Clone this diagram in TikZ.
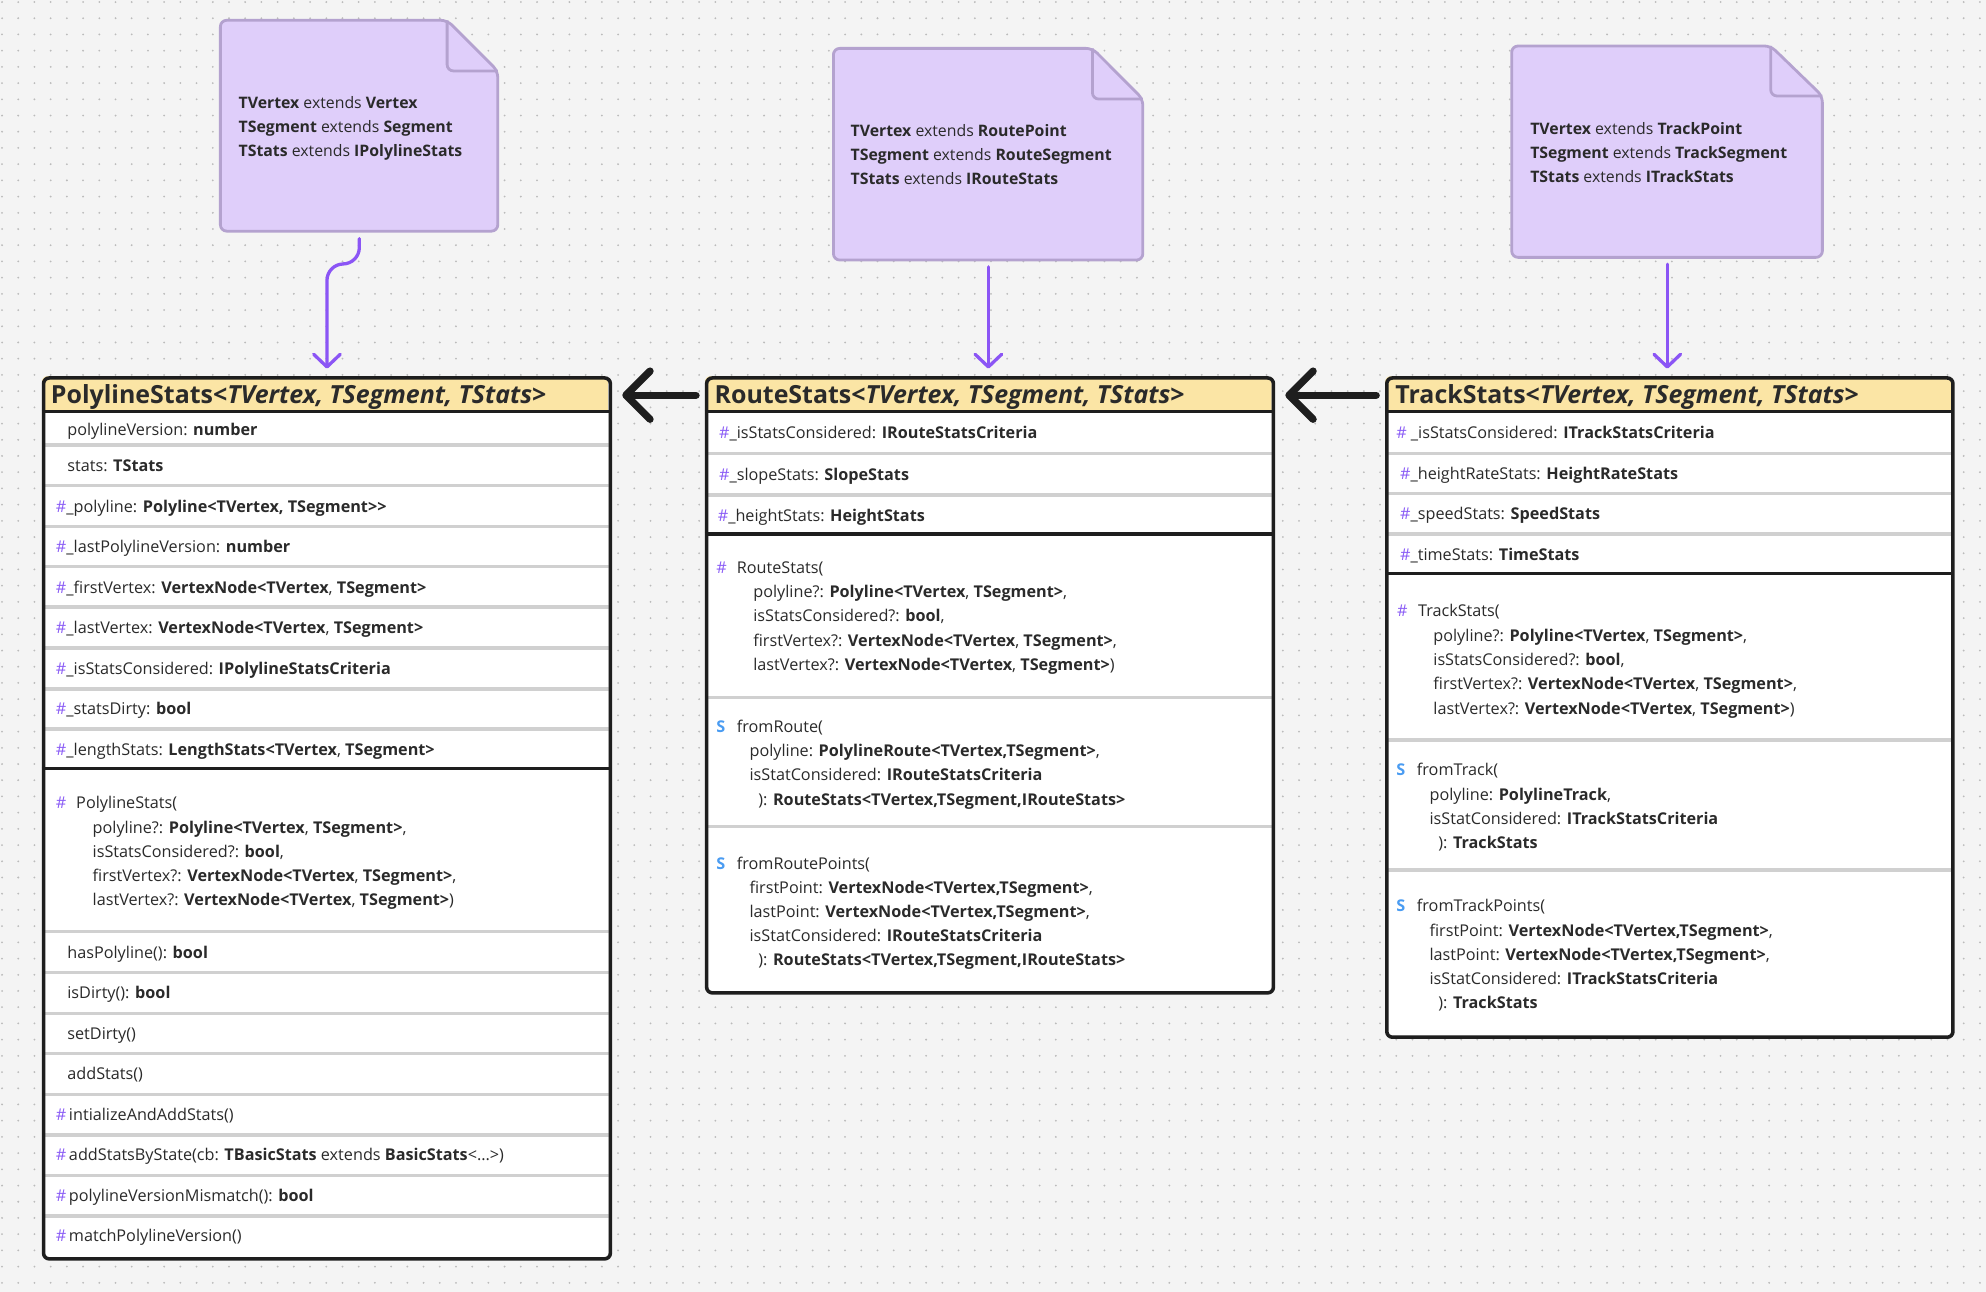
\documentclass[tikz,border=0pt]{standalone}
\usepackage{fontspec}
\setmainfont{Open Sans}
\usetikzlibrary{arrows.meta}
\definecolor{bg}{HTML}{F4F4F4}
\definecolor{dotc}{HTML}{BBBBBB}
\definecolor{notefill}{HTML}{DFCEFA}
\definecolor{noteline}{HTML}{B4A2CF}
\definecolor{arrowp}{HTML}{8B55F5}
\definecolor{hdr}{HTML}{FBE5A5}
\definecolor{blk}{HTML}{1E1E1E}
\definecolor{sepc}{HTML}{D0D0D0}
\definecolor{txt}{HTML}{2A2A2A}
\definecolor{hashc}{HTML}{8A5CF6}
\definecolor{sc}{HTML}{4A9CF2}
\newcommand{\hs}{{\color{hashc}\#}}
\newcommand{\stc}{{\color{sc}\textbf{S}}}
\tikzset{
  tx/.style={anchor=west, inner sep=0pt, text height=9pt, text depth=0pt, font=\fontsize{12.8}{15}\selectfont, text=txt},
  nt/.style={anchor=west, inner sep=0pt, text height=9pt, text depth=0pt, font=\fontsize{12.5}{15}\selectfont, text=txt},
  hd/.style={anchor=west, inner sep=0pt, text height=13.5pt, text depth=0pt, font=\fontsize{19.7}{23}\selectfont\bfseries, text=txt},
  notebody/.style={fill=notefill, draw=noteline, line width=2.2pt, rounded corners=5pt, line join=round},
  foldline/.style={draw=noteline, line width=2.2pt, rounded corners=5pt},
  notebox/.style={inner sep=0pt, anchor=north west},
  classbox/.style={draw=blk, line width=2.8pt, rounded corners=4.5pt, inner sep=0pt, anchor=north west},
  sep/.style={draw=sepc, line width=2.6pt},
  bsep/.style={draw=blk, line width=2.6pt},
  parr/.style={draw=arrowp, line width=2.6pt, line cap=round, -{Straight Barb[length=10pt, width=21pt, round]}},
  inh/.style={draw=blk, line width=5.8pt, line cap=round, -{Straight Barb[length=19pt, width=38pt, round]}},
}
\begin{document}
\begin{tikzpicture}[x=1pt, y=-1pt]
\useasboundingbox (0,0) rectangle (1568,1020);
\fill[bg] (0,0) rectangle (1568,1020);
\foreach \k in {0,...,79} {
  \draw[dotc, line width=1.6pt, line cap=round, dash pattern=on 0pt off 12.8pt] (1.6,1.6+12.8*\k) -- (1568,1.6+12.8*\k);
}

% ---------- notes ----------
\path[notebody] (174,16) -- (353,16) -- (393,56) -- (393,182.5) -- (174,182.5) -- cycle;
\path[foldline] (353,16) -- (353,56) -- (393,56);
\node[notebox, minimum width=219pt, minimum height=166.5pt] (n1) at (174,16) {};
\node[nt] (n1a) at (188.2,80.8) {\textbf{TVertex} extends \textbf{Vertex}};
\node[nt] (n1b) at (188.2,100) {\textbf{TSegment} extends \textbf{Segment}};
\node[nt] (n1c) at (188.2,119.2) {\textbf{TStats} extends \textbf{IPolylineStats}};

\path[notebody] (658,38.2) -- (862.5,38.2) -- (902.3,78.2) -- (902.3,205.3) -- (658,205.3) -- cycle;
\path[foldline] (862.5,38.2) -- (862.5,78.2) -- (902.3,78.2);
\node[notebox, minimum width=244.3pt, minimum height=167.1pt] (n2) at (658,38.2) {};
\node[nt] (n2a) at (671.4,103.2) {\textbf{TVertex} extends \textbf{RoutePoint}};
\node[nt] (n2b) at (671.4,122.4) {\textbf{TSegment} extends \textbf{RouteSegment}};
\node[nt] (n2c) at (671.4,141.3) {\textbf{TStats} extends \textbf{IRouteStats}};

\path[notebody] (1193.5,36.3) -- (1398,36.3) -- (1438.8,75.8) -- (1438.8,203.2) -- (1193.5,203.2) -- cycle;
\path[foldline] (1398,36.3) -- (1398,75.8) -- (1438.8,75.8);
\node[notebox, minimum width=245.3pt, minimum height=166.9pt] (n3) at (1193.5,36.3) {};
\node[nt] (n3a) at (1208,101.3) {\textbf{TVertex} extends \textbf{TrackPoint}};
\node[nt] (n3b) at (1208,120.5) {\textbf{TSegment} extends \textbf{TrackSegment}};
\node[nt] (n3c) at (1208,139.5) {\textbf{TStats} extends \textbf{ITrackStats}};

% ---------- PolylineStats ----------
\begin{scope}
\clip[rounded corners=4.5pt] (33,297) rectangle (480.5,992.5);
\fill[hdr] (33,297) rectangle (480.5,325);
\fill[white] (33,325) rectangle (480.5,992.5);
\end{scope}
\foreach \yy in {351.3,383.5,415.5,447.4,479.2,511.6,544,575.6,735.5,768,800,832,864,896,928,960}
  \draw[sep] (33,\yy) -- (480.5,\yy);
\draw[bsep] (33,325) -- (480.5,325);
\draw[bsep] (33,606.5) -- (480.5,606.5);
\node[classbox, minimum width=447.5pt, minimum height=695.5pt] (poly) at (33,297) {};
\node[hd] (ph) at (40,312) {PolylineStats<\textit{TVertex, TSegment, TStats}>};
\node[tx] (pa1) at (53,339) {polylineVersion: \textbf{number}};
\node[tx] (pa2) at (53,368) {stats: \textbf{TStats}};
\node[tx] (pa3) at (44,400) {\hs\_polyline: \textbf{Polyline<TVertex, TSegment>{}>}};
\node[tx] (pa4) at (44,432) {\hs\_lastPolylineVersion: \textbf{number}};
\node[tx] (pa5) at (44,464) {\hs\_firstVertex: \textbf{VertexNode<TVertex}, \textbf{TSegment>}};
\node[tx] (pa6) at (44,496) {\hs\_lastVertex: \textbf{VertexNode<TVertex}, \textbf{TSegment>}};
\node[tx] (pa7) at (44,528) {\hs\_isStatsConsidered: \textbf{IPolylineStatsCriteria}};
\node[tx] (pa8) at (44,560) {\hs\_statsDirty: \textbf{bool}};
\node[tx] (pa9) at (44,592) {\hs\_lengthStats: \textbf{LengthStats<TVertex}, \textbf{TSegment>}};
\node[tx] (pc0) at (44,633.5) {\hs};
\node[tx] (pc1) at (60,633.5) {PolylineStats(};
\node[tx] (pc2) at (73,653.3) {polyline?: \textbf{Polyline<TVertex}, \textbf{TSegment>},};
\node[tx] (pc3) at (73,672.4) {isStatsConsidered?: \textbf{bool},};
\node[tx] (pc4) at (73,691.6) {firstVertex?: \textbf{VertexNode<TVertex}, \textbf{TSegment>},};
\node[tx] (pc5) at (73,710.6) {lastVertex?: \textbf{VertexNode<TVertex}, \textbf{TSegment>})};
\node[tx] (pm1) at (53,752) {hasPolyline(): \textbf{bool}};
\node[tx] (pm2) at (53,784) {isDirty(): \textbf{bool}};
\node[tx] (pm3) at (53,816) {setDirty()};
\node[tx] (pm4) at (53,848) {addStats()};
\node[tx] (pm5) at (44,880) {\hs\hspace{2pt}intializeAndAddStats()};
\node[tx] (pm6) at (44,912) {\hs\hspace{2pt}addStatsByState(cb: \textbf{TBasicStats} extends \textbf{BasicStats}<...>)};
\node[tx] (pm7) at (44,944) {\hs\hspace{2pt}polylineVersionMismatch(): \textbf{bool}};
\node[tx] (pm8) at (44,976) {\hs\hspace{2pt}matchPolylineVersion()};

% ---------- RouteStats ----------
\begin{scope}
\clip[rounded corners=4.5pt] (556.5,297) rectangle (1004,782.5);
\fill[hdr] (556.5,297) rectangle (1004,325);
\fill[white] (556.5,325) rectangle (1004,782.5);
\end{scope}
\foreach \yy in {358,390.8,550.5,652.7}
  \draw[sep] (556.5,\yy) -- (1004,\yy);
\draw[bsep] (556.5,325) -- (1004,325);
\draw[bsep] (556.5,421.5) -- (1004,421.5);
\node[classbox, minimum width=447.5pt, minimum height=485.5pt] (route) at (556.5,297) {};
\node[hd] (rh) at (564,312) {RouteStats<\textit{TVertex, TSegment, TStats}>};
\node[tx] (ra1) at (567.5,342) {\hs\_isStatsConsidered: \textbf{IRouteStatsCriteria}};
\node[tx] (ra2) at (567.5,375) {\hs\_slopeStats: \textbf{SlopeStats}};
\node[tx] (ra3) at (566.5,407) {\hs\_heightStats: \textbf{HeightStats}};
\node[tx] (rc0) at (565.3,448) {\hs};
\node[tx] (rc1) at (581.6,448) {RouteStats(};
\node[tx] (rc2) at (594.6,467.2) {polyline?: \textbf{Polyline<TVertex}, \textbf{TSegment>},};
\node[tx] (rc3) at (594.6,486.4) {isStatsConsidered?: \textbf{bool},};
\node[tx] (rc4) at (594.6,505.8) {firstVertex?: \textbf{VertexNode<TVertex}, \textbf{TSegment>},};
\node[tx] (rc5) at (594.6,525) {lastVertex?: \textbf{VertexNode<TVertex}, \textbf{TSegment>})};
\node[tx] (rs0) at (565.3,573.7) {\stc};
\node[tx] (rs1) at (581.6,573.7) {fromRoute(};
\node[tx] (rs2) at (591.6,592.6) {polyline: \textbf{PolylineRoute<TVertex,TSegment>},};
\node[tx] (rs3) at (591.6,611.6) {isStatConsidered: \textbf{IRouteStatsCriteria}};
\node[tx] (rs4) at (598.5,631.4) {): \textbf{RouteStats<TVertex,TSegment,IRouteStats>}};
\node[tx] (rp0) at (565.3,681.6) {\stc};
\node[tx] (rp1) at (581.6,681.6) {fromRoutePoints(};
\node[tx] (rp2) at (591.6,700.6) {firstPoint: \textbf{VertexNode<TVertex,TSegment>},};
\node[tx] (rp3) at (591.6,719.8) {lastPoint: \textbf{VertexNode<TVertex,TSegment>},};
\node[tx] (rp4) at (591.6,738.7) {isStatConsidered: \textbf{IRouteStatsCriteria}};
\node[tx] (rp5) at (598.5,758) {): \textbf{RouteStats<TVertex,TSegment,IRouteStats>}};

% ---------- TrackStats ----------
\begin{scope}
\clip[rounded corners=4.5pt] (1093.5,297) rectangle (1540.5,817.5);
\fill[hdr] (1093.5,297) rectangle (1540.5,325);
\fill[white] (1093.5,325) rectangle (1540.5,817.5);
\end{scope}
\foreach \yy in {358,389.8,421.6,584.3,686.9}
  \draw[sep] (1093.5,\yy) -- (1540.5,\yy);
\draw[bsep] (1093.5,325) -- (1540.5,325);
\draw[bsep] (1093.5,453) -- (1540.5,453);
\node[classbox, minimum width=447pt, minimum height=520.5pt] (track) at (1093.5,297) {};
\node[hd] (th) at (1101.5,312) {TrackStats<\textit{TVertex, TSegment, TStats}>};
\node[tx] (ta1) at (1102.2,342) {\hs{} \_isStatsConsidered: \textbf{ITrackStatsCriteria}};
\node[tx] (ta2) at (1105.2,374.4) {\hs\_heightRateStats: \textbf{HeightRateStats}};
\node[tx] (ta3) at (1105.2,406) {\hs\_speedStats: \textbf{SpeedStats}};
\node[tx] (ta4) at (1105.2,438) {\hs\_timeStats: \textbf{TimeStats}};
\node[tx] (tc0) at (1102.8,482) {\hs};
\node[tx] (tc1) at (1119.4,482) {TrackStats(};
\node[tx] (tc2) at (1131.5,501.6) {polyline?: \textbf{Polyline<TVertex}, \textbf{TSegment>},};
\node[tx] (tc3) at (1131.5,520.8) {isStatsConsidered?: \textbf{bool},};
\node[tx] (tc4) at (1131.5,540) {firstVertex?: \textbf{VertexNode<TVertex}, \textbf{TSegment>},};
\node[tx] (tc5) at (1131.5,559.5) {lastVertex?: \textbf{VertexNode<TVertex}, \textbf{TSegment>})};
\node[tx] (ts0) at (1102.2,608) {\stc};
\node[tx] (ts1) at (1118.5,608) {fromTrack(};
\node[tx] (ts2) at (1128.5,627.5) {polyline: \textbf{PolylineTrack},};
\node[tx] (ts3) at (1128.5,646.7) {isStatConsidered: \textbf{ITrackStatsCriteria}};
\node[tx] (ts4) at (1135.4,665.7) {): \textbf{TrackStats}};
\node[tx] (tp0) at (1102.2,715.3) {\stc};
\node[tx] (tp1) at (1118.5,715.3) {fromTrackPoints(};
\node[tx] (tp2) at (1128.5,734.8) {firstPoint: \textbf{VertexNode<TVertex,TSegment>},};
\node[tx] (tp3) at (1128.5,754) {lastPoint: \textbf{VertexNode<TVertex,TSegment>},};
\node[tx] (tp4) at (1128.5,773) {isStatConsidered: \textbf{ITrackStatsCriteria}};
\node[tx] (tp5) at (1135.4,792) {): \textbf{TrackStats}};

% ---------- connectors ----------
\draw[parr, rounded corners=13pt] ([yshift=-5.5pt]n1.south) -- ++(0,20) -| ([yshift=6pt]poly.north);
\draw[parr] ([yshift=-5pt]n2.south) -- ([yshift=6pt]n2.south |- route.north);
\draw[parr] ([yshift=-5pt]n3.south) -- ([yshift=6pt]n3.south |- track.north);
\draw[inh] ([shift={(-7pt,-15pt)}]route.north west) -- ([shift={(8pt,-15pt)}]poly.north east);
\draw[inh] ([shift={(-7pt,-15pt)}]track.north west) -- ([shift={(8pt,-15pt)}]route.north east);
\end{tikzpicture}
\end{document}
